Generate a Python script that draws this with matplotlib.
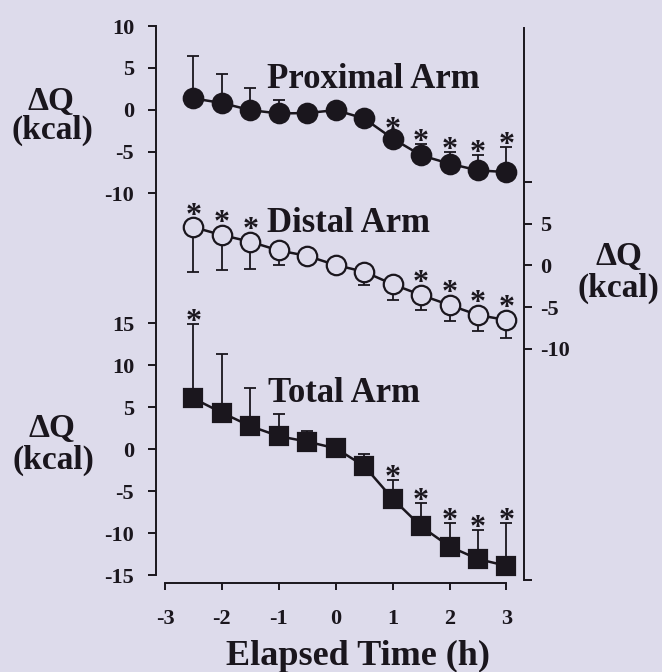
import matplotlib.pyplot as plt
import numpy as np

plt.rcParams['font.family'] = ['Liberation Serif', 'DejaVu Serif']
plt.rcParams['font.weight'] = 'bold'
plt.rcParams['axes.unicode_minus'] = False

BG = '#dddbeb'
INK = '#1a161d'

hours = [-2.5, -2, -1.5, -1, -0.5, 0, 0.5, 1, 1.5, 2, 2.5, 3]

proximal = [1.35, 0.8, -0.05, -0.45, -0.4, -0.05, -1.05, -3.45, -5.45, -6.45, -7.25, -7.45]
proximal_err = [5.05, 3.5, 2.6, 1.6, 0.4, 0.4, 0.4, 0.8, 1.4, 1.4, 1.8, 3.0]
proximal_sig = [0, 0, 0, 0, 0, 0, 0, 1, 1, 1, 1, 1]

distal = [4.6, 3.65, 2.85, 1.8, 1.15, 0.05, -0.75, -2.25, -3.55, -4.75, -5.95, -6.55]
distal_err = [5.4, 4.2, 3.3, 1.8, 0.4, 0.4, 1.6, 1.9, 1.8, 1.9, 1.9, 2.2]
distal_sig = [1, 1, 1, 0, 0, 0, 0, 0, 1, 1, 1, 1]

total = [6.05, 4.35, 2.75, 1.55, 0.9, 0.1, -2.0, -5.9, -9.2, -11.6, -13.1, -13.9]
total_err = [8.9, 7.0, 4.6, 2.6, 1.3, 0.4, 1.4, 2.25, 2.8, 2.8, 3.5, 5.1]
total_sig = [1, 0, 0, 0, 0, 0, 0, 1, 1, 1, 1, 1]

x_ticks = [-3, -2, -1, 0, 1, 2, 3]
prox_ticks = [10, 5, 0, -5, -10]
dist_ticks = [10, 5, 0, -5, -10]
total_ticks = [15, 10, 5, 0, -5, -10, -15]

W, H = 662, 672
fig = plt.figure(figsize=(W / 100, H / 100), dpi=100, facecolor=BG)

# all three panels share one frame, each with its own y scale
ax1 = fig.add_axes([156.4 / W, 1 - 583 / H, (523.5 - 156.4) / W, (583 - 26) / H])
ax1.set_xlim(-3.151, 3.30)
ax1.set_ylim(-56.55, 10)
ax2 = ax1.twinx()
ax2.set_ylim(-38.12, 28.75)
ax3 = ax1.twinx()
ax3.set_ylim(-15.95, 50.44)

for a in (ax1, ax2, ax3):
    a.patch.set_visible(False)
    for s in a.spines.values():
        s.set_visible(False)
        s.set_color(INK)
        s.set_linewidth(1.4)

ax1.spines['bottom'].set_visible(True)
ax1.spines['bottom'].set_bounds(-3, 3)
ax3.spines['left'].set_visible(True)
ax3.spines['left'].set_bounds(-15, 50.44)
ax2.spines['right'].set_visible(True)
ax2.spines['right'].set_bounds(-37.76, 28.5)

ax1.set_xticks(x_ticks)
ax1.set_xticklabels([str(v) for v in x_ticks])
ax1.set_yticks(prox_ticks)
ax1.set_yticklabels([str(v) for v in prox_ticks])
ax3.yaxis.tick_left()
ax3.set_yticks(total_ticks)
ax3.set_yticklabels([str(v) for v in total_ticks])
ax2.set_yticks(dist_ticks + [-37.76])
ax2.set_yticklabels([''] + [str(v) for v in dist_ticks[1:]] + [''])

ax1.tick_params(axis='x', direction='out', length=5, width=1.4, color=INK,
                labelsize=16, pad=14, labelcolor=INK)
for a in (ax1, ax3):
    a.tick_params(axis='y', direction='out', length=6, width=1.4, color=INK,
                  labelsize=16, pad=10, labelcolor=INK)
ax2.tick_params(axis='y', direction='out', length=6, width=1.4, color=INK,
                labelsize=16, pad=6, labelcolor=INK)


def series(ax, y, err, up, marker, face, ms):
    yerr = [np.zeros(len(err)), err] if up else [err, np.zeros(len(err))]
    ax.errorbar(hours, y, yerr=yerr, fmt='none', ecolor=INK, elinewidth=1.3,
                capsize=4.3, capthick=1.3, zorder=2)
    ax.plot(hours, y, '-', marker=marker, color=INK, lw=1.8, ms=ms,
            mfc=face, mec=INK, mew=1.6, zorder=3)


def stars(ax, tops, sig, off):
    for x, t, s in zip(hours, tops, sig):
        if s:
            ax.annotate('*', (x, t), xytext=(0, off), textcoords='offset points',
                        ha='center', va='center', fontsize=23, color=INK, zorder=4)


series(ax1, proximal, proximal_err, True, 'o', INK, 14)
stars(ax1, np.add(proximal, proximal_err), proximal_sig, 1)

series(ax2, distal, distal_err, False, 'o', BG, 14)
stars(ax2, distal, distal_sig, 8)

series(ax3, total, total_err, True, 's', INK, 13)
stars(ax3, np.add(total, total_err), total_sig, 1)


def ftext(x, y, s, size, ha='left'):
    fig.text(x / W, 1 - y / H, s, fontsize=size, ha=ha, va='baseline', color=INK)


ftext(266.7, 88.3, 'Proximal Arm', 25)
ftext(266.7, 231.7, 'Distal Arm', 25)
ftext(268.3, 401.7, 'Total Arm', 25)

ftext(51, 110, 'ΔQ', 24, 'center')
ftext(52.5, 138.3, '(kcal)', 24, 'center')
ftext(51.7, 437.3, 'ΔQ', 24, 'center')
ftext(53.3, 468.3, '(kcal)', 24, 'center')
ftext(619, 265, 'ΔQ', 24, 'center')
ftext(618, 297, '(kcal)', 24, 'center')

ftext(358, 665, 'Elapsed Time (h)', 26, 'center')

fig.savefig('out.png', dpi=100, facecolor=BG)
